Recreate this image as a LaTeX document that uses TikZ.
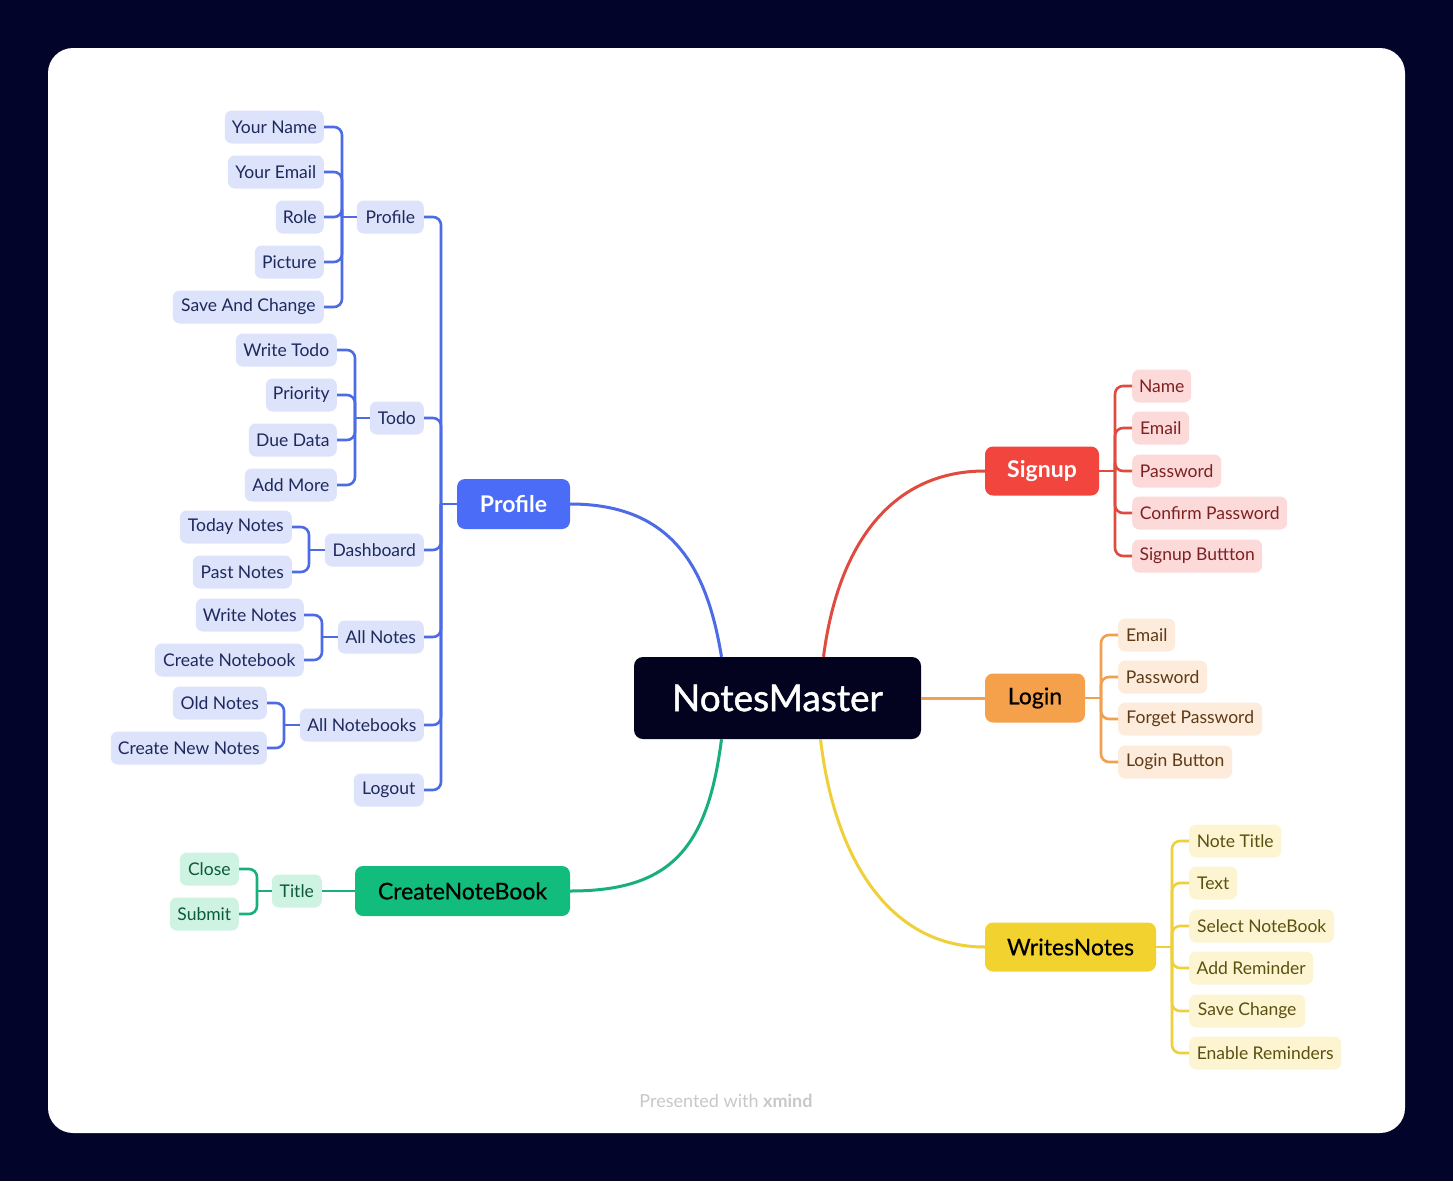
\documentclass[tikz,border=0pt]{standalone}
\usepackage{fontspec}
\setmainfont{Lato}
\newfontfamily\medfont{Lato}[FakeBold=1.2]
\newfontfamily\semfont{Lato}[FakeBold=0.5]
\definecolor{bgdark}{HTML}{03042A}
\definecolor{cmain}{HTML}{03031F}
\definecolor{bmain}{HTML}{4A6CF7}
\definecolor{bline}{HTML}{4E6BE6}
\definecolor{blight}{HTML}{DCE3FB}
\definecolor{btext}{HTML}{1E2A5E}
\definecolor{rmain}{HTML}{F2453D}
\definecolor{rline}{HTML}{E04B40}
\definecolor{rlight}{HTML}{FDDADA}
\definecolor{rtext}{HTML}{7D2020}
\definecolor{omain}{HTML}{F5A04B}
\definecolor{oline}{HTML}{F0A04E}
\definecolor{olight}{HTML}{FDEBDC}
\definecolor{otext}{HTML}{5E3A16}
\definecolor{ymain}{HTML}{F2D22E}
\definecolor{yline}{HTML}{F0D03A}
\definecolor{ylight}{HTML}{FDF5D2}
\definecolor{ytext}{HTML}{5A5010}
\definecolor{gmain}{HTML}{12BC7C}
\definecolor{gline}{HTML}{17B07A}
\definecolor{glight}{HTML}{CFF3E3}
\definecolor{gtext}{HTML}{0B5A3C}
\definecolor{footgray}{HTML}{C8C8C8}
\begin{document}
\begin{tikzpicture}[x=1pt,y=-1pt,
  mainbox/.style={rounded corners=8pt, inner sep=0pt, minimum height=50pt, font=\semfont\fontsize{23}{27}\selectfont},
  subbox/.style={rounded corners=7pt, inner sep=0pt, minimum height=33pt, font=\fontsize{17.5}{20}\selectfont},
  bsub/.style={subbox, fill=blight, text=btext},
  rsub/.style={subbox, fill=rlight, text=rtext},
  osub/.style={subbox, fill=olight, text=otext},
  ysub/.style={subbox, fill=ylight, text=ytext},
  gsub/.style={subbox, fill=glight, text=gtext},
  bconn/.style={draw=bline, line width=2.6pt, rounded corners=8pt},
  rconn/.style={draw=rline, line width=2.6pt, rounded corners=8pt},
  oconn/.style={draw=oline, line width=2.6pt, rounded corners=8pt},
  yconn/.style={draw=yline, line width=2.6pt, rounded corners=8pt},
  gconn/.style={draw=gline, line width=2.6pt, rounded corners=8pt},
  maincurve/.style={line width=3pt}
]
\useasboundingbox (0,0) rectangle (1453,1181);
\fill[bgdark] (0,0) rectangle (1453,1181);
\fill[white, rounded corners=25pt] (48,48) rectangle (1405,1133);

% ---------- main nodes ----------
\node[fill=cmain, text=white, rounded corners=9pt, inner sep=0pt, minimum width=287pt, minimum height=82pt, font=\medfont\fontsize{37}{41}\selectfont] (nm) at (777.5,698) {NotesMaster};
\node[mainbox, fill=bmain, text=white, font=\bfseries\fontsize{23}{27}\selectfont, minimum width=113pt] (pmain) at (513.5,504) {Profile};
\node[mainbox, fill=rmain, text=white, font=\bfseries\fontsize{23}{27}\selectfont, minimum width=114pt, minimum height=49pt] (signup) at (1042,471) {Signup};
\node[mainbox, fill=omain, text=black, minimum width=100pt, minimum height=49pt] (login) at (1035,698) {Login};
\node[mainbox, fill=ymain, text=black, minimum width=171pt, minimum height=49pt] (wn) at (1070.5,947) {WritesNotes};
\node[mainbox, fill=gmain, text=black, minimum width=215pt] (cnb) at (462.5,891) {CreateNoteBook};

% main curves
\draw[maincurve, bline] (pmain.east) .. controls +(105,0) and +(-14,-85) .. ([xshift=-56pt]nm.north);
\draw[maincurve, rline] ([xshift=46pt]nm.north) .. controls +(14,-110) and +(-95,0) .. (signup.west);
\draw[maincurve, oline] (nm.east) -- (login.west);
\draw[maincurve, yline] ([xshift=43pt]nm.south) .. controls +(14,120) and +(-95,0) .. (wn.west);
\draw[maincurve, gline] ([xshift=-56pt]nm.south) .. controls +(-14,110) and +(100,0) .. (cnb.east);

% ---------- Profile branch ----------
\node[bsub, anchor=east, minimum width=67pt] (sprof) at (424,217) {Profile};
\node[bsub, anchor=east, minimum width=54pt] (todo) at (424,418) {Todo};
\node[bsub, anchor=east, minimum width=99pt] (dash) at (424,550) {Dashboard};
\node[bsub, anchor=east, minimum width=86pt] (alln) at (424,637) {All Notes};
\node[bsub, anchor=east, minimum width=124pt] (allnb) at (424,725) {All Notebooks};
\node[bsub, anchor=east, minimum width=70pt] (logout) at (424,790) {Logout};

\coordinate (pj0) at (441,504);
\draw[bconn] (pmain.west) -- (pj0);
\foreach \c in {sprof,todo,dash,alln,allnb,logout} \draw[bconn] (pj0) |- (\c.east);

% Profile sub
\node[bsub, anchor=east, minimum width=99pt] (yname) at (324,127) {Your Name};
\node[bsub, anchor=east, minimum width=96pt] (yemail) at (324,172) {Your Email};
\node[bsub, anchor=east, minimum width=48pt] (role) at (324,217) {Role};
\node[bsub, anchor=east, minimum width=69pt] (pic) at (324,262) {Picture};
\node[bsub, anchor=east, minimum width=151pt] (sac) at (324,307) {Save And Change};
\coordinate (pj1) at (342,217);
\draw[bconn] (sprof.west) -- (pj1);
\foreach \c in {yname,yemail,role,pic,sac} \draw[bconn] (pj1) |- (\c.east);

% Todo sub
\node[bsub, anchor=east, minimum width=101pt] (wtodo) at (337,350) {Write Todo};
\node[bsub, anchor=east, minimum width=71pt] (prio) at (337,395) {Priority};
\node[bsub, anchor=east, minimum width=88pt] (due) at (337,440) {Due Data};
\node[bsub, anchor=east, minimum width=92pt] (addm) at (337,485) {Add More};
\coordinate (pj2) at (355,418);
\draw[bconn] (todo.west) -- (pj2);
\foreach \c in {wtodo,prio,due,addm} \draw[bconn] (pj2) |- (\c.east);

% Dashboard sub
\node[bsub, anchor=east, minimum width=112pt] (today) at (292,527) {Today Notes};
\node[bsub, anchor=east, minimum width=99pt] (past) at (292,572) {Past Notes};
\coordinate (pj3) at (309,550);
\draw[bconn] (dash.west) -- (pj3);
\foreach \c in {today,past} \draw[bconn] (pj3) |- (\c.east);

% All Notes sub
\node[bsub, anchor=east, minimum width=108pt] (wnotes) at (304,615) {Write Notes};
\node[bsub, anchor=east, minimum width=149pt] (cnotebook) at (304,660) {Create Notebook};
\coordinate (pj4) at (322,637);
\draw[bconn] (alln.west) -- (pj4);
\foreach \c in {wnotes,cnotebook} \draw[bconn] (pj4) |- (\c.east);

% All Notebooks sub
\node[bsub, anchor=east, minimum width=94pt] (oldn) at (267,703) {Old Notes};
\node[bsub, anchor=east, minimum width=156pt] (cnewn) at (267,748) {Create New Notes};
\coordinate (pj5) at (284,725);
\draw[bconn] (allnb.west) -- (pj5);
\foreach \c in {oldn,cnewn} \draw[bconn] (pj5) |- (\c.east);

% ---------- CreateNoteBook branch ----------
\node[gsub, anchor=east, minimum width=50pt] (title) at (322,891) {Title};
\node[gsub, anchor=east, minimum width=59pt] (close) at (239,869) {Close};
\node[gsub, anchor=east, minimum width=69pt] (submit) at (239,914) {Submit};
\draw[gconn] (cnb.west) -- (title.east);
\coordinate (gj) at (257,891);
\draw[gconn] (title.west) -- (gj);
\foreach \c in {close,submit} \draw[gconn] (gj) |- (\c.east);

% ---------- Signup branch ----------
\node[rsub, anchor=west, minimum width=59pt] (sname) at (1132,386) {Name};
\node[rsub, anchor=west, minimum width=57pt] (semail) at (1132,428) {Email};
\node[rsub, anchor=west, minimum width=89pt] (spass) at (1132,471) {Password};
\node[rsub, anchor=west, minimum width=155pt] (sconf) at (1132,513) {Confirm Password};
\node[rsub, anchor=west, minimum width=130pt] (sbtn) at (1132,556) {Signup Buttton};
\coordinate (sj) at (1115,471);
\draw[rconn] (signup.east) -- (sj);
\foreach \c in {sname,semail,spass,sconf,sbtn} \draw[rconn] (sj) |- (\c.west);

% ---------- Login branch ----------
\node[osub, anchor=west, minimum width=57pt] (lemail) at (1118,635) {Email};
\node[osub, anchor=west, minimum width=89pt] (lpass) at (1118,677) {Password};
\node[osub, anchor=west, minimum width=144pt] (lforget) at (1118,719) {Forget Password};
\node[osub, anchor=west, minimum width=114pt] (lbtn) at (1118,762) {Login Button};
\coordinate (lj) at (1101,698);
\draw[oconn] (login.east) -- (lj);
\foreach \c in {lemail,lpass,lforget,lbtn} \draw[oconn] (lj) |- (\c.west);

% ---------- WritesNotes branch ----------
\node[ysub, anchor=west, minimum width=92pt] (ntitle) at (1189,841) {Note Title};
\node[ysub, anchor=west, minimum width=48pt] (ntext) at (1189,883) {Text};
\node[ysub, anchor=west, minimum width=145pt] (nsel) at (1189,926) {Select NoteBook};
\node[ysub, anchor=west, minimum width=124pt] (nadd) at (1189,968) {Add Reminder};
\node[ysub, anchor=west, minimum width=116pt] (nsave) at (1189,1011) {Save Change};
\node[ysub, anchor=west, minimum width=152pt] (nenable) at (1189,1053) {Enable Reminders};
\coordinate (yj) at (1172,947);
\draw[yconn] (wn.east) -- (yj);
\foreach \c in {ntitle,ntext,nsel,nadd,nsave,nenable} \draw[yconn] (yj) |- (\c.west);

% footer
\node[font=\fontsize{18}{21}\selectfont, text=footgray] (foot) at (726,1101) {Presented with \textbf{xmind}};
\end{tikzpicture}
\end{document}
